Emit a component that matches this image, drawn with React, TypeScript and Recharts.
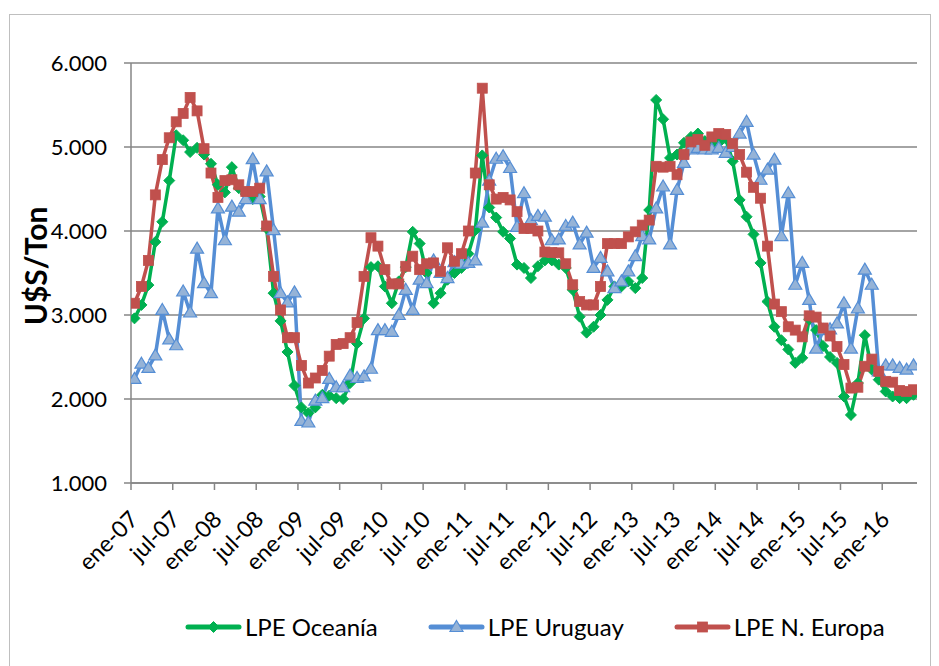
import { CartesianGrid, Line, LineChart, XAxis, YAxis } from "recharts";

const GREEN = "#00B050";
const BLUE = "#558ED5";
const BLUE_FILL = "#95B3D7";
const RED = "#C0504D";
const AXIS = "#868686";
const FONT = "Lato, 'Open Sans', sans-serif";

// meses ene-07 … may-16
const MONTH_NAMES = ["ene", "feb", "mar", "abr", "may", "jun", "jul", "ago", "sep", "oct", "nov", "dic"];
const months = Array.from(
  { length: 113 },
  (_, i) => `${MONTH_NAMES[i % 12]}-${String(7 + Math.floor(i / 12)).padStart(2, "0")}`,
);

const tickLabels = [
  "ene-07", "jul-07", "ene-08", "jul-08", "ene-09", "jul-09", "ene-10", "jul-10",
  "ene-11", "jul-11", "ene-12", "jul-12", "ene-13", "jul-13", "ene-14", "jul-14",
  "ene-15", "jul-15", "ene-16",
];

const yTicks = [1000, 2000, 3000, 4000, 5000, 6000];

const oceania = [
  2960, 3120, 3356, 3870, 4110, 4600, 5140, 5080, 4940, 4990,
  4910, 4800, 4550, 4460, 4760, 4510, 4440, 4380, 4410, 4030,
  3260, 2930, 2560, 2160, 1900, 1830, 1900, 2050, 2040, 2010,
  2000, 2190, 2660, 2960, 3570, 3580, 3340, 3140, 3400, 3570,
  3990, 3850, 3500, 3140, 3260, 3420, 3500, 3560, 3730, 4010,
  4900, 4280, 4160, 3990, 3910, 3600, 3560, 3440, 3580, 3650,
  3650, 3600, 3560, 3300, 2980, 2790, 2860, 3000, 3180, 3340,
  3340, 3400, 3320, 3440, 4250, 5560, 5330, 4870, 4910, 5050,
  5120, 5160, 5070, 5020, 5050, 5100, 4830, 4370, 4170, 3960,
  3620, 3160, 2860, 2700, 2590, 2430, 2490, 2950, 2820, 2630,
  2500, 2430, 2030, 1810, 2190, 2760, 2350, 2230, 2090, 2030,
  2010, 2010, 2050,
];

const uruguay = [
  2240, 2420, 2370, 2520, 3060, 2710, 2640, 3280, 3030, 3790,
  3380, 3260, 4270, 3890, 4290, 4230, 4380, 4855, 4380, 4710,
  4010, 3260, 3150, 3270, 1740, 1720, 1980, 2010, 2240, 2140,
  2140, 2280, 2250, 2270, 2360, 2820, 2820, 2800, 3000, 3300,
  3060, 3420, 3380, 3650, 3500, 3440, 3630, 3610, 3620, 3650,
  4100, 4600, 4860, 4890, 4750, 4050, 4450, 4130, 4180, 4170,
  3890, 3900, 4060, 4100, 3840, 3980, 3560, 3680, 3520, 3320,
  3400, 3520, 3700, 3940, 3900, 4270, 4530, 3840, 4490, 4810,
  4970, 4990, 4970, 4970, 4990, 4930, 5000, 5160, 5300, 4910,
  4610, 4730, 4850, 3940, 4450, 3360, 3620, 3180, 2600, 2820,
  2830, 2900, 3140, 2600, 3080, 3540, 3360, 2330, 2400, 2400,
  2370, 2350, 2400,
];

const nEuropa = [
  3140, 3340, 3650, 4430, 4850, 5110, 5300, 5400, 5590, 5430,
  4980, 4690, 4400, 4600, 4610, 4550, 4470, 4470, 4510, 4060,
  3460, 3060, 2730, 2730, 2400, 2190, 2250, 2340, 2510, 2650,
  2660, 2730, 2910, 3460, 3920, 3820, 3540, 3370, 3370, 3580,
  3700, 3540, 3610, 3620, 3520, 3800, 3640, 3730, 4000, 4690,
  5700, 4550, 4380, 4400, 4370, 4230, 4030, 4030, 4000, 3750,
  3745, 3740, 3610, 3360, 3160, 3120, 3120, 3340, 3850, 3850,
  3850, 3930, 3990, 4070, 4130, 4770, 4760, 4770, 4670, 4910,
  5060, 5090, 5020, 5120, 5160, 5150, 5040, 4910, 4700, 4520,
  4390, 3820, 3130, 3040, 2860, 2820, 2740, 2990, 2975, 2845,
  2750, 2625, 2410, 2130, 2140, 2390, 2475, 2330, 2210, 2200,
  2100, 2090, 2110,
];

const data = months.map((month, i) => ({
  i,
  month,
  oceania: oceania[i],
  uruguay: uruguay[i],
  nEuropa: nEuropa[i],
}));

// marcas de eje entre categorías (como Excel), cada 6 meses
const xTicks = tickLabels.map((_, k) => k * 6 - 0.5);

const thousands = (v: number) => String(v).replace(/\B(?=(\d{3})+(?!\d))/g, ".");

function Diamond({ cx, cy }: { cx?: number; cy?: number }) {
  if (cx == null || cy == null) return null;
  const r = 5.5;
  return (
    <path
      d={`M${cx},${cy - r}L${cx + r},${cy}L${cx},${cy + r}L${cx - r},${cy}Z`}
      fill={GREEN}
      stroke={GREEN}
      strokeWidth={1}
    />
  );
}

function Triangle({ cx, cy }: { cx?: number; cy?: number }) {
  if (cx == null || cy == null) return null;
  return (
    <path
      d={`M${cx},${cy - 6.5}L${cx + 6.5},${cy + 4.5}L${cx - 6.5},${cy + 4.5}Z`}
      fill={BLUE_FILL}
      stroke={BLUE}
      strokeWidth={1.2}
    />
  );
}

function Square({ cx, cy }: { cx?: number; cy?: number }) {
  if (cx == null || cy == null) return null;
  return <rect x={cx - 5} y={cy - 5} width={10} height={10} fill={RED} stroke={RED} strokeWidth={0.8} />;
}

function MonthTick({ x, y, payload }: { x?: number; y?: number; payload?: { value: number } }) {
  if (x == null || y == null || !payload) return null;
  const k = Math.round((payload.value + 0.5) / 6);
  const tx = x + 3;
  const ty = y + 23;
  return (
    <text
      x={tx}
      y={ty}
      dy="0.35em"
      textAnchor="end"
      transform={`rotate(-45, ${tx}, ${ty})`}
      fontSize={23}
      fontFamily={FONT}
      fill="#000"
    >
      {tickLabels[k]}
    </text>
  );
}

const legendItems = [
  { name: "LPE Oceanía", color: GREEN, Marker: Diamond },
  { name: "LPE Uruguay", color: BLUE, Marker: Triangle },
  { name: "LPE N. Europa", color: RED, Marker: Square },
];

export default function App() {
  return (
    <div
      style={{
        position: "absolute",
        left: 0,
        top: 0,
        width: 939,
        height: 666,
        background: "#fff",
        fontFamily: FONT,
        overflow: "hidden",
      }}
    >
      <div
        style={{
          position: "absolute",
          left: 9,
          top: 14,
          width: 920,
          height: 660,
          border: "1px solid #bfbfbf",
        }}
      />
      <LineChart
        width={939}
        height={610}
        data={data}
        margin={{ top: 63, right: 22, bottom: 0, left: 0 }}
        style={{ position: "absolute", left: 0, top: 0 }}
      >
        <CartesianGrid vertical={false} stroke={AXIS} strokeWidth={1.5} />
        <XAxis
          dataKey="i"
          type="number"
          domain={[-0.5, 112.5]}
          ticks={xTicks}
          interval={0}
          height={127}
          tickSize={7}
          stroke={AXIS}
          strokeWidth={1.5}
          tick={<MonthTick />}
          allowDataOverflow
        />
        <YAxis
          type="number"
          domain={[1000, 6000]}
          ticks={yTicks}
          interval={0}
          width={131}
          tickSize={7}
          tickMargin={17}
          stroke={AXIS}
          strokeWidth={1.5}
          tickFormatter={thousands}
          tick={{ fontSize: 22, fontFamily: FONT, fill: "#000" }}
        />
        <Line
          dataKey="oceania"
          name="LPE Oceanía"
          stroke={GREEN}
          strokeWidth={3.5}
          dot={<Diamond />}
          isAnimationActive={false}
        />
        <Line
          dataKey="uruguay"
          name="LPE Uruguay"
          stroke={BLUE}
          strokeWidth={3.5}
          dot={<Triangle />}
          isAnimationActive={false}
        />
        <Line
          dataKey="nEuropa"
          name="LPE N. Europa"
          stroke={RED}
          strokeWidth={3.5}
          dot={<Square />}
          isAnimationActive={false}
        />
      </LineChart>
      <div
        style={{
          position: "absolute",
          left: 35,
          top: 266,
          transform: "translate(-50%, -50%) rotate(-90deg)",
          fontWeight: 700,
          fontSize: 30,
          whiteSpace: "nowrap",
          color: "#000",
        }}
      >
        U$S/Ton
      </div>
      <div
        style={{
          position: "absolute",
          left: 185,
          top: 612,
          display: "flex",
          alignItems: "center",
          gap: 50,
          fontSize: 24,
          color: "#000",
          lineHeight: "30px",
        }}
      >
        {legendItems.map(({ name, color, Marker }) => (
          <div key={name} style={{ display: "flex", alignItems: "center" }}>
            <svg width={57} height={20}>
              <line x1={3} y1={10} x2={54} y2={10} stroke={color} strokeWidth={5} strokeLinecap="round" />
              <Marker cx={28.5} cy={10} />
            </svg>
            <span style={{ marginLeft: 3 }}>{name}</span>
          </div>
        ))}
      </div>
    </div>
  );
}
